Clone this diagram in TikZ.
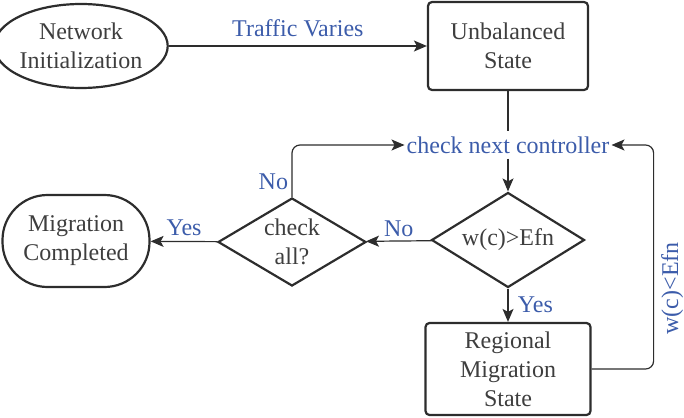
\documentclass[tikz,border=0pt]{standalone}
\usepackage{fontspec}
\setmainfont{Liberation Serif}
\newfontfamily\tmsfont{Liberation Serif}
\usetikzlibrary{arrows.meta,shapes.geometric,positioning}
\definecolor{inkgray}{RGB}{45,45,45}
\definecolor{txtgray}{RGB}{62,62,62}
\definecolor{lblblue}{RGB}{60,92,170}

\begin{document}
\begin{tikzpicture}[x=1pt,y=-1pt,
	every node/.style={font=\tmsfont\fontsize{24}{29}\selectfont,align=center,text=txtgray},
	statebox/.style={draw=inkgray,line width=2.2pt,rounded corners=4pt,inner sep=0pt},
	decision/.style={diamond,draw=inkgray,line width=2.2pt,inner sep=0pt},
	lbl/.style={text=lblblue},
	flow/.style={draw=inkgray,line width=1.2pt,-{Stealth[length=13pt,width=11pt,inset=3pt]}}]
	\useasboundingbox (0,0) rectangle (684,417);

	\begin{scope}
		\node[ellipse,draw=inkgray,line width=2.2pt,inner sep=0pt,minimum width=156pt,minimum height=84pt] (netinit) at (81,46) {Network\\Initialization};
		\node[statebox,minimum width=160pt,minimum height=88pt] (unbal) at (508,46) {Unbalanced\\State};
		\node[lbl,inner xsep=2pt,inner ysep=5pt] (chknext) at (508,145) {check next controller};
		\node[decision,aspect=1.6,minimum width=153pt,minimum height=95pt] (cmpw) at (508,240) {w(c)>Efn};
		\node[decision,aspect=1.68,minimum width=148pt,minimum height=88pt] (chkall) at (292,242) {check\\all?};
		\node[statebox,rounded corners=45pt,minimum width=147pt,minimum height=92pt] (migdone) at (76,241) {Migration\\Completed};
		\node[statebox,minimum width=165pt,minimum height=92pt] (regional) at (508,369) {Regional\\Migration\\State};
	\end{scope}

	% main flow
	\path[flow] (netinit) -- node[lbl,above=5pt] {Traffic Varies} (unbal);
	\draw[draw=inkgray,line width=1.2pt] (unbal) -- (chknext);
	\path[flow] (chknext) -- (cmpw);
	\path[flow] (cmpw) -- node[lbl,right=6pt] {Yes} (regional);
	\path[flow] (cmpw) -- node[lbl,above] {No} (chkall);
	\path[flow] (chkall) -- node[lbl,above=2pt] {Yes} (migdone);

	% loops back to the next controller
	\path[flow,rounded corners=8pt] (chkall.north) |- node[lbl,left,pos=0.15] {No} (chknext.west);
	\path[flow,rounded corners=8pt] (regional.east) -- ++(62,0) |- node[lbl,rotate=90,anchor=north,inner sep=7pt,pos=0.18] {w(c)<Efn} (chknext.east);
\end{tikzpicture}
\end{document}
